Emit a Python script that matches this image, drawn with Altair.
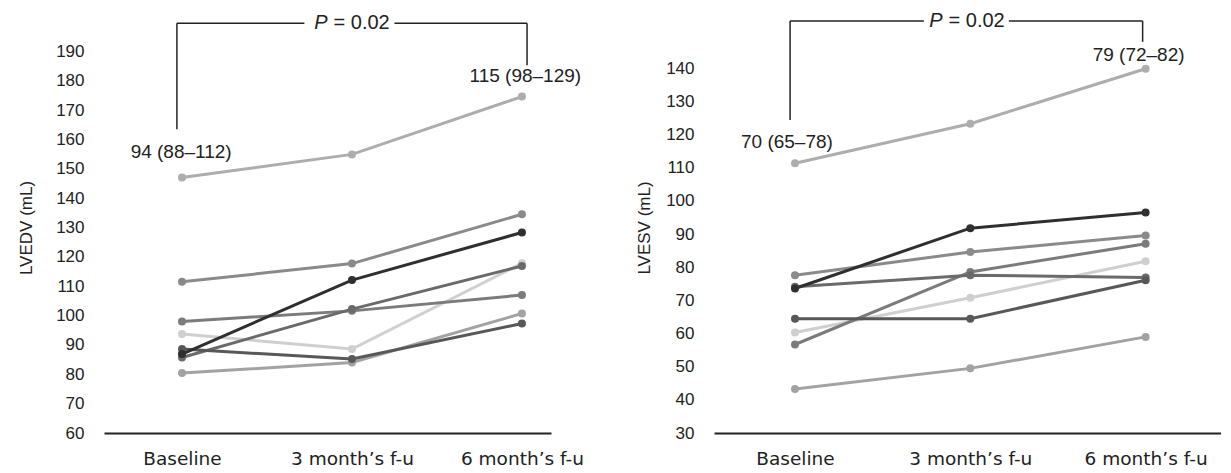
import json
import altair as alt
import pandas as pd

# ---- categories ----
stages = ["Baseline", "3 month\u2019s f-u", "6 month\u2019s f-u"]
stage_pos = [0, 1, 2]

# subjects in drawing order (black drawn last) and their grey shades
subjects = ["F", "H", "A", "B", "E", "D", "G", "C"]
shades = ["#cfcfcf", "#a2a2a2", "#adadad", "#8a8a8a", "#7b7b7b", "#6a6a6a", "#585858", "#2f2f2f"]

# ---- LVEDV (mL) ----
lvedv_f = [93.7, 88.6, 117.8]
lvedv_h = [80.4, 84.0, 100.7]
lvedv_a = [147.0, 154.9, 174.6]
lvedv_b = [111.5, 117.7, 134.5]
lvedv_e = [98.0, 101.6, 107.0]
lvedv_d = [85.7, 102.2, 116.9]
lvedv_g = [88.6, 85.2, 97.3]
lvedv_c = [86.9, 112.1, 128.3]

# ---- LVESV (mL) ----
lvesv_f = [60.3, 70.8, 81.8]
lvesv_h = [43.3, 49.5, 59.0]
lvesv_a = [111.4, 123.3, 139.9]
lvesv_b = [77.6, 84.6, 89.6]
lvesv_e = [56.7, 78.6, 87.1]
lvesv_d = [74.1, 77.6, 76.9]
lvesv_g = [64.5, 64.5, 76.1]
lvesv_c = [73.6, 91.8, 96.5]

# ---- axis ticks ----
lvedv_ticks = [60, 70, 80, 90, 100, 110, 120, 130, 140, 150, 160, 170, 180, 190]
lvesv_ticks = [30, 40, 50, 60, 70, 80, 90, 100, 110, 120, 130, 140]

# ---- annotations (data coordinates) ----
p_text = "P"
p_rest = "= 0.02"

lvedv_br_x = [-0.03, -0.03, 1.25, 2.03]
lvedv_br_x2 = [-0.03, 0.72, 2.03, 2.03]
lvedv_br_y = [163.5, 199.6, 199.6, 185.3]
lvedv_br_y2 = [199.6, 199.6, 199.6, 199.6]
lvedv_p_x = 0.868
lvedv_p_y = 199.6
lvedv_lab_text = ["94 (88\u2013112)", "115 (98\u2013129)"]
lvedv_lab_x = [-0.005, 2.02]
lvedv_lab_y = [155.6, 181.5]

lvesv_br_x = [-0.028, -0.028, 1.22, 1.983]
lvesv_br_x2 = [-0.028, 0.735, 1.983, 1.983]
lvesv_br_y = [124.4, 154.3, 154.3, 148.0]
lvesv_br_y2 = [154.3, 154.3, 154.3, 154.3]
lvesv_p_x = 0.853
lvesv_p_y = 154.3
lvesv_lab_text = ["70 (65\u201378)", "79 (72\u201382)"]
lvesv_lab_x = [-0.046, 1.96]
lvesv_lab_y = [117.8, 144.0]

label_expr = "datum.value == 0 ? {} : datum.value == 1 ? {} : {}".format(
    *[json.dumps(s) for s in stages])

INK = "#222222"


def panel(series, ydom, yticks, ytitle, xdom, width, title_pad,
          br_x, br_x2, br_y, br_y2, p_x, p_y, lab_text, lab_x, lab_y):
    rows = []
    for s, vals in zip(subjects, series):
        for i, v in zip(stage_pos, vals):
            rows.append({"subject": s, "idx": i, "value": v})
    df = pd.DataFrame(rows)

    xscale = alt.Scale(domain=xdom, nice=False, zero=False)
    yscale = alt.Scale(domain=ydom, nice=False, zero=False)
    xaxis = alt.Axis(values=stage_pos, labelExpr=label_expr, grid=False, ticks=False,
                     domainColor=INK, domainWidth=2, labelFont="DejaVu Sans",
                     labelFontSize=18.5, labelColor=INK, labelPadding=16,
                     labelOverlap=False, labelFlush=False, title=None)
    yaxis = alt.Axis(values=yticks, domain=False, ticks=False, grid=False,
                     labelFont="Liberation Sans", labelFontSize=17, labelColor=INK,
                     labelPadding=20, labelOverlap=False, labelFlush=False,
                     labelBound=False, title=ytitle, titleFont="Liberation Sans",
                     titleFontSize=17, titleFontWeight="normal", titleColor=INK,
                     titlePadding=title_pad)
    X = alt.X("idx:Q", scale=xscale, axis=xaxis)
    Y = alt.Y("value:Q", scale=yscale, axis=yaxis)
    color = alt.Color("subject:N", scale=alt.Scale(domain=subjects, range=shades), legend=None)

    base = alt.Chart(df)
    lines = base.mark_line(strokeWidth=3).encode(x=X, y=Y, color=color, detail="subject:N")
    pts = base.mark_circle(size=64, opacity=1).encode(x=X, y=Y, color=color)

    br = pd.DataFrame({"idx": br_x, "idx2": br_x2, "value": br_y, "value2": br_y2})
    rules = alt.Chart(br).mark_rule(color=INK, strokeWidth=1.5).encode(
        x=X, x2="idx2:Q", y=Y, y2="value2:Q")

    labs = pd.DataFrame({"idx": lab_x, "value": lab_y, "label": lab_text})
    texts = alt.Chart(labs).mark_text(font="Liberation Sans", fontSize=19, color=INK,
                                      align="center", baseline="middle").encode(
        x=X, y=Y, text="label:N")

    pdf = pd.DataFrame({"idx": [p_x], "value": [p_y], "p": [p_text], "rest": [p_rest]})
    ptxt = alt.Chart(pdf).mark_text(font="Liberation Sans", fontSize=20, fontStyle="italic",
                                    color=INK, align="right", baseline="middle", dx=-2).encode(
        x=X, y=Y, text="p:N")
    rtxt = alt.Chart(pdf).mark_text(font="Liberation Sans", fontSize=20,
                                    color=INK, align="left", baseline="middle", dx=4).encode(
        x=X, y=Y, text="rest:N")

    return alt.layer(lines, pts, rules, texts, ptxt, rtxt).properties(width=width, height=411)


left = panel([lvedv_f, lvedv_h, lvedv_a, lvedv_b, lvedv_e, lvedv_d, lvedv_g, lvedv_c],
             [60, 200], lvedv_ticks, "LVEDV (mL)", [-0.459, 2.171], 447, 20,
             lvedv_br_x, lvedv_br_x2, lvedv_br_y, lvedv_br_y2, lvedv_p_x, lvedv_p_y,
             lvedv_lab_text, lvedv_lab_x, lvedv_lab_y)

right = panel([lvesv_f, lvesv_h, lvesv_a, lvesv_b, lvesv_e, lvesv_d, lvesv_g, lvesv_c],
              [30, 154], lvesv_ticks, "LVESV (mL)", [-0.462, 2.430], 507, 12,
              lvesv_br_x, lvesv_br_x2, lvesv_br_y, lvesv_br_y2, lvesv_p_x, lvesv_p_y,
              lvesv_lab_text, lvesv_lab_x, lvesv_lab_y)

chart = alt.hconcat(left, right, spacing=163, bounds="flush").configure(
    padding={"left": 9, "top": 3, "right": 0, "bottom": 0}
).configure_view(stroke=None)

chart.save("out.html", embed_options={"renderer": "svg", "actions": False})
